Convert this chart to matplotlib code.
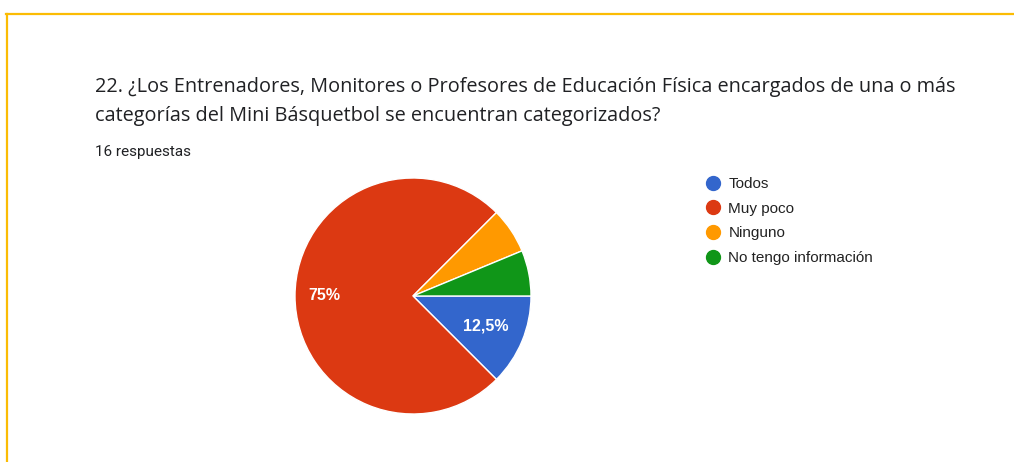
import matplotlib
matplotlib.use("Agg")
import matplotlib.pyplot as plt
from matplotlib.lines import Line2D
import numpy as np

# Data
categories = ["Todos", "Muy poco", "Ninguno", "No tengo información"]
counts = [2, 12, 1, 1]
colors = ["#3366CC", "#DC3912", "#FF9900", "#109618"]
title_lines = ["22. ¿Los Entrenadores, Monitores o Profesores de Educación Física encargados de una o más",
               "categorías del Mini Básquetbol se encuentran categorizados?"]
subtitle = "16 respuestas"

W, H = 1014, 462
fig = plt.figure(figsize=(W / 100, H / 100), dpi=100)
fig.patch.set_facecolor("white")

# yellow frame (only top and left edges visible)
border = "#FBBC04"
fig.add_artist(Line2D([6 / W, 1.0], [1 - 14 / H, 1 - 14 / H], color=border, linewidth=1.6))
fig.add_artist(Line2D([7 / W, 7 / W], [0.0, 1 - 14 / H], color=border, linewidth=1.6))

# title + response count
fig.text(95 / W, 1 - 87 / H, title_lines[0], fontsize=14.3, color="#202124",
         family="Open Sans", va="center", ha="left")
fig.text(95 / W, 1 - 116 / H, title_lines[1], fontsize=14.3, color="#202124",
         family="Open Sans", va="center", ha="left")
fig.text(95 / W, 1 - 152 / H, subtitle, fontsize=11, color="#202124",
         family="Roboto", va="center", ha="left")

# pie
cx, cy, r = 413, 296, 118
ax = fig.add_axes([(cx - r) / W, (H - cy - r) / H, 2 * r / W, 2 * r / H])
wedges, _ = ax.pie(counts, colors=colors, startangle=0, counterclock=False,
                   wedgeprops=dict(edgecolor="white", linewidth=1))
ax.set_xlim(-1, 1)
ax.set_ylim(-1, 1)
ax.axis("off")

# percentage labels (small slices get none)
total = sum(counts)
label_r = {0: 0.67, 1: 0.75}
for i, w in enumerate(wedges):
    frac = counts[i] / total
    if frac < 0.1:
        continue
    ang = np.deg2rad((w.theta1 + w.theta2) / 2)
    pct = f"{frac * 100:.1f}".rstrip("0").rstrip(".").replace(".", ",") + "%"
    ax.text(label_r[i] * np.cos(ang), label_r[i] * np.sin(ang), pct,
            color="white", fontsize=11.5, fontweight="bold", family="Liberation Sans",
            ha="center", va="center")

# legend
handles = [Line2D([], [], marker="o", linestyle="", markersize=10,
                  markerfacecolor=c, markeredgecolor=c) for c in colors]
fig.legend(handles, categories, loc="upper left",
           bbox_to_anchor=(705.5 / W, 1 - 177 / H), frameon=False,
           prop={"family": "Liberation Sans", "size": 11},
           handlelength=1.0, handletextpad=0.5, labelspacing=0.7,
           borderpad=0, borderaxespad=0, labelcolor="#222222")

fig.savefig("out.png", dpi=100)
